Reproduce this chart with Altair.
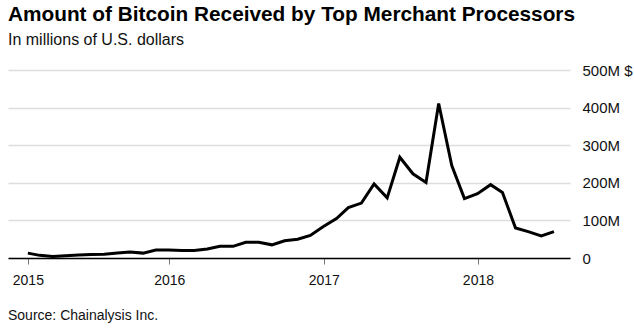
import altair as alt
import pandas as pd

# Monthly totals (millions of U.S. dollars), Jan 2015 - Jun 2018
months = [p.strftime("%Y-%m") for p in pd.period_range("2015-01", "2018-06", freq="M")]
values = [
    13, 7, 4, 6, 8, 9, 10, 13, 16, 13, 21, 21,          # 2015
    20, 20, 24, 31, 31, 42, 42, 35, 46, 50, 60, 84,     # 2016
    105, 134, 146, 197, 160, 268, 224, 201, 411, 246, 158, 171,  # 2017
    195, 174, 80, 70, 59, 70,                            # 2018
]
title = "Amount of Bitcoin Received by Top Merchant Processors"
subtitle = "In millions of U.S. dollars"
source = "Source: Chainalysis Inc."
y_ticks = [0, 100, 200, 300, 400, 500]

# each month is plotted at its last day
dates = [(pd.Period(m, freq="M").end_time.normalize()).strftime("%Y-%m-%d") for m in months]
df = pd.DataFrame({"date": dates, "value": values})

FONT = "Liberation Sans"
W, H = 562, 188

x_enc = alt.X(
    "date:T",
    scale=alt.Scale(domain=[alt.DateTime(year=2014, month=12, date=15),
                            alt.DateTime(year=2018, month=8, date=7)]),
    axis=alt.Axis(
        title=None,
        values=[alt.DateTime(year=2015, month=1, date=31),
                alt.DateTime(year=2016, month=1, date=1),
                alt.DateTime(year=2017, month=1, date=1),
                alt.DateTime(year=2018, month=1, date=1)],
        labelExpr="timeFormat(datum.value, '%Y')",
        grid=False,
        domain=True, domainColor="#000000", domainWidth=1.5,
        ticks=True, tickColor="#777777", tickSize=6, tickWidth=1,
        labelPadding=9, labelFontSize=14, labelColor="#111111", labelFont=FONT,
    ),
)
y_enc = alt.Y(
    "value:Q",
    scale=alt.Scale(domain=[0, 500], nice=False),
    axis=alt.Axis(
        title=None, orient="right", values=y_ticks,
        labelExpr="datum.value === 0 ? '0' : (datum.value === 500 ? '500M $' : datum.value + 'M')",
        grid=True, gridColor="#dddddd", gridWidth=1.5,
        domain=False, ticks=False, labelPadding=12,
        labelFontSize=15, labelColor="#111111", labelFont=FONT, labelAlign="left",
    ),
)

line = alt.Chart(df).mark_line(color="#000000", strokeWidth=3, strokeJoin="miter").encode(x=x_enc, y=y_enc)

src = alt.Chart(pd.DataFrame({"t": [source]})).mark_text(
    align="left", baseline="alphabetic", fontSize=14, font=FONT, color="#111111"
).encode(text="t:N", x=alt.value(0), y=alt.value(250))

chart = alt.layer(line, src).properties(
    width=W, height=H,
    title=alt.TitleParams(
        text=title, subtitle=subtitle, anchor="start", frame="group",
        font=FONT, fontSize=20.8, fontWeight="bold", color="#000000",
        subtitleFont=FONT, subtitleFontSize=16, subtitleColor="#111111",
        subtitlePadding=6, offset=14,
    ),
    padding={"left": 8, "top": 70, "right": 64, "bottom": 72},
    autosize=alt.AutoSizeParams(type="none"),
).configure_view(stroke=None)

chart.save("out.html", embed_options={"renderer": "svg", "actions": False})
